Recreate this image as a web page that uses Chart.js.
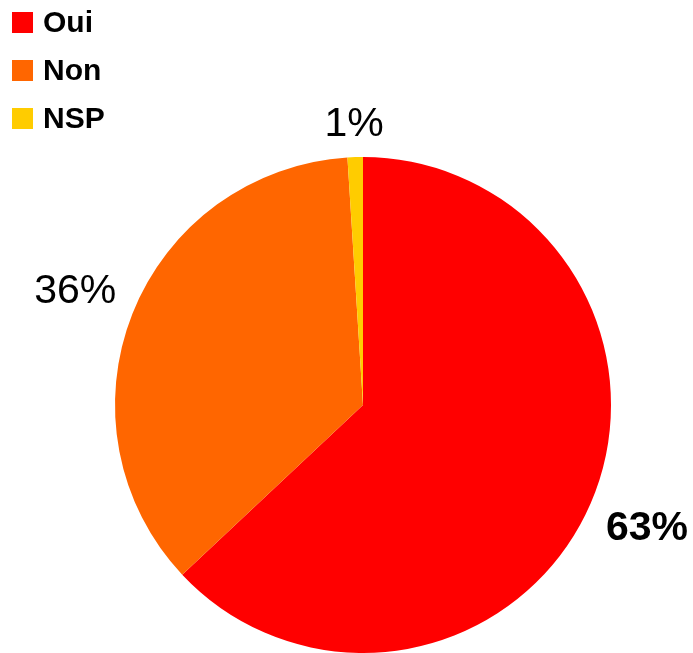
<!DOCTYPE html>
<html>
<head>
<meta charset="utf-8">
<script src="https://cdn.jsdelivr.net/npm/chart.js@4"></script>
<style>
  html, body { margin: 0; padding: 0; background: #fff; }
  #wrap { width: 693px; height: 653px; }
</style>
</head>
<body>
<div id="wrap"><canvas id="myChart"></canvas></div>
<script>
const categories = ['Oui', 'Non', 'NSP']
const values = [63, 36, 1]
const colors = ['#FF0000', '#FF6600', '#FFCC00']

const canvas = document.getElementById('myChart')

// legend in the top left corner, drawn by hand
const cornerLegend = {
    id: 'cornerLegend',
    afterDraw(chart){
        const ctx = chart.ctx
        ctx.save()
        ctx.font = 'bold 30px "Liberation Sans", Arial, sans-serif'
        ctx.textBaseline = 'middle'
        ctx.textAlign = 'left'
        categories.forEach((name, i) => {
            const y = 23 + i * 48
            ctx.fillStyle = colors[i]
            ctx.fillRect(12, y - 11, 21, 21)
            ctx.fillStyle = '#000'
            ctx.fillText(name, 43, y + 1)
        })
        ctx.restore()
    }
}

// percentage labels outside each slice
const outsideLabels = {
    id: 'outsideLabels',
    afterDatasetsDraw(chart){
        const ctx = chart.ctx
        const meta = chart.getDatasetMeta(0)
        const total = values.reduce((a, b) => a + b, 0)
        ctx.save()
        ctx.textAlign = 'center'
        ctx.textBaseline = 'middle'
        ctx.fillStyle = '#000'
        meta.data.forEach((arc, i) => {
            const p = arc.getProps(['x', 'y', 'startAngle', 'endAngle', 'outerRadius'], true)
            const mid = (p.startAngle + p.endAngle) / 2
            const text = Math.round(values[i] / total * 100) + '%'
            ctx.font = (i === 0 ? 'bold ' : '') + '41px "Liberation Sans", Arial, sans-serif'
            const w = ctx.measureText(text).width
            const h = 29
            const cos = Math.cos(mid), sin = Math.sin(mid)
            const d = p.outerRadius + 18 + Math.abs(cos) * w / 2 + Math.abs(sin) * h / 2
            ctx.fillText(text, p.x + cos * d, p.y + sin * d + 1)
        })
        ctx.restore()
    }
}

const config = {
    type: 'pie',
    data: {
        labels: categories,
        datasets: [{
            data: values,
            backgroundColor: colors,
            borderWidth: 0
        }]
    },
    options: {
        responsive: true,
        maintainAspectRatio: false,
        animation: false,
        layout: {
            padding: {left: 115, right: 82, top: 157, bottom: 0}
        },
        plugins: {
            legend: {display: false},
            tooltip: {enabled: false}
        }
    },
    plugins: [cornerLegend, outsideLabels]
}

new Chart(canvas, config)
</script>
</body>
</html>
